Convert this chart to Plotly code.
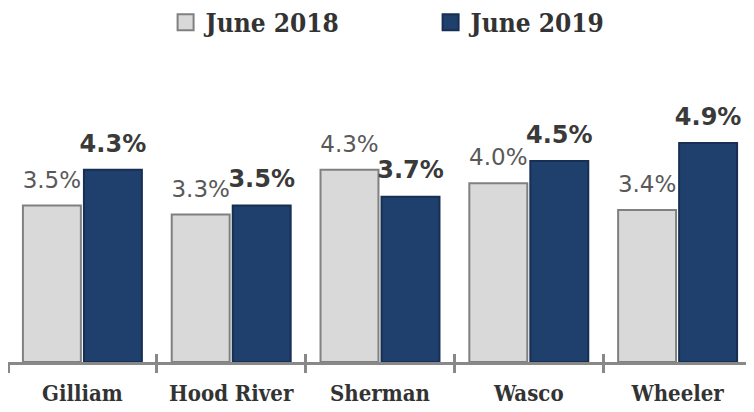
import plotly.graph_objects as go

counties = ["Gilliam", "Hood River", "Sherman", "Wasco", "Wheeler"]
june_2018 = [3.5, 3.3, 4.3, 4.0, 3.4]
june_2019 = [4.3, 3.5, 3.7, 4.5, 4.9]

serif = "DejaVu Serif Condensed"
sans = "DejaVu Sans"
gray, gray_edge = "#d9d9d9", "#808080"
blue, blue_edge = "#1f3f6d", "#172f52"

fig = go.Figure()
series = [
    ("June 2018", june_2018, gray, gray_edge, "{:.1f}%", dict(family=sans, size=23, color="#595959")),
    ("June 2019", june_2019, blue, blue_edge, "<b>{:.1f}%</b>", dict(family=sans, size=24, color="#3a3a3a")),
]
for name, vals, c, e, fmt, tf in series:
    fig.add_trace(go.Bar(
        x=counties, y=vals, name=name, showlegend=False, offsetgroup=name,
        marker=dict(color=c, line=dict(color=e, width=2)),
    ))
    # value labels, sitting a little above the bar tops
    fig.add_trace(go.Scatter(
        x=counties, y=vals, mode="markers+text", offsetgroup=name, showlegend=False,
        marker=dict(size=18, opacity=0), text=[fmt.format(v) for v in vals],
        textposition="top center", textfont=tf, cliponaxis=False, hoverinfo="skip",
    ))
# legend-only entries with bigger square swatches
for name, vals, c, e, fmt, tf in series:
    fig.add_trace(go.Scatter(x=[None], y=[None], mode="markers", name=name,
                             marker=dict(symbol="square", size=20, color=c,
                                         line=dict(color=e, width=2))))
# invisible trace on an overlay axis, used only for the upward half of the divider ticks
fig.add_trace(go.Bar(x=counties, y=[0] * 5, xaxis="x2", showlegend=False,
                     hoverinfo="skip", marker=dict(opacity=0)))

fig.update_layout(
    width=754, height=412,
    margin=dict(l=0, r=10, t=60, b=58, autoexpand=False),
    plot_bgcolor="white", paper_bgcolor="white",
    barmode="group", bargap=0.18, bargroupgap=0.05,
    scattermode="group", scattergap=0.18,
    showlegend=True,
    legend=dict(orientation="h", x=0.568, xanchor="center", y=0.965, yanchor="middle",
                yref="container",
                font=dict(family=serif, size=26, color="#333333", weight="bold"),
                itemwidth=30, traceorder="normal", entrywidth=220),
)
fig.update_xaxes(
    showline=True, linecolor="#888888", linewidth=3, automargin=False,
    ticks="outside", tickson="boundaries", ticklen=8, tickwidth=3, tickcolor="#888888",
    tickfont=dict(family=serif, size=22, color="#333333", weight="bold"),
    ticklabelstandoff=10,
    showgrid=False,
)
fig.update_layout(xaxis2=dict(overlaying="x", matches="x", showline=False, showgrid=False,
                              ticks="inside", tickson="boundaries", ticklen=8, tickwidth=3,
                              tickcolor="#888888", showticklabels=False, side="bottom"))
fig.update_yaxes(range=[0, 6.58], visible=False, showgrid=False)

fig.write_html("out.html")
